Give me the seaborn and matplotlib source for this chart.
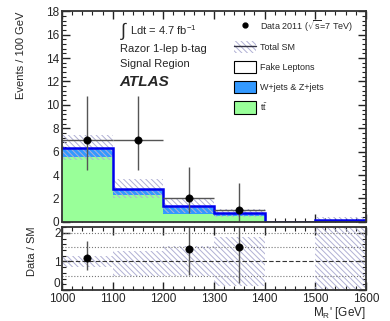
import numpy as np
import pandas as pd
import matplotlib
matplotlib.use("Agg")
import matplotlib.pyplot as plt
from matplotlib.ticker import MultipleLocator
from matplotlib.patches import Patch
from matplotlib.lines import Line2D
import seaborn as sns

# Binning in M_R' (GeV)
edges = [1000, 1100, 1200, 1300, 1400, 1500, 1600]
centers = [1050, 1150, 1250, 1350, 1450, 1550]

# Stacked backgrounds (events / 100 GeV)
ttbar = [5.5, 2.25, 0.63, 0.5, 0.0, 0.03]
wzjets = [0.83, 0.57, 0.75, 0.25, 0.0, 0.14]
fake = [0.0, 0.0, 0.0, 0.0, 0.0, 0.0]

# Total SM uncertainty band
syst_lo = [5.3, 2.05, 0.75, 0.45, 0.0, 0.0]
syst_hi = [7.4, 3.7, 2.0, 1.1, 0.0, 0.4]

# Data
data_x = [1050, 1150, 1250, 1350]
data_y = [7, 7, 2, 1]
data_lo = [4.4, 4.4, 0.72, 0.0]
data_hi = [10.75, 10.75, 4.65, 3.3]

# Ratio panel
ratio_x = [1050, 1250, 1350]
ratio_y = [1.11, 1.44, 1.52]
ratio_lo = [0.71, 0.51, 0.24]
ratio_hi = [1.71, 3.0, 3.0]
band_lo = [0.8, 0.5, 0.5, 0.15, np.nan, 0.0]
band_hi = [1.2, 1.35, 1.55, 1.85, np.nan, 2.2]

sns.set_style("ticks")
plt.rcParams['font.family'] = ['Liberation Sans', 'DejaVu Sans']
plt.rcParams['hatch.linewidth'] = 0.7
plt.rcParams['mathtext.fontset'] = 'custom'
plt.rcParams['mathtext.rm'] = 'Liberation Sans'
plt.rcParams['mathtext.it'] = 'Liberation Sans:italic'

green = '#99ff99'
blue = '#3399ff'
line_blue = '#0000ee'
hatch_col = '#b0b0d4'
err_col = '#555555'
hatch = '\\' * 6

fig = plt.figure(figsize=(3.9, 3.21), dpi=100)
ax = fig.add_axes([0.159, 0.309, 0.779, 0.656])
rax = fig.add_axes([0.159, 0.0966, 0.779, 0.196])

df = pd.DataFrame({'x': centers, 'tt': ttbar, 'wz': wzjets, 'fake': fake})
df['c_wz'] = df['tt'] + df['wz']
df['c_fake'] = df['c_wz'] + df['fake']

# stack drawn top layer first
sns.histplot(df, x='x', weights='c_fake', bins=edges, element='step', fill=True,
             color='white', alpha=1, linewidth=0, ax=ax)
sns.histplot(df, x='x', weights='c_wz', bins=edges, element='step', fill=True,
             color=blue, alpha=1, linewidth=0, ax=ax)
sns.histplot(df, x='x', weights='tt', bins=edges, element='step', fill=True,
             color=green, alpha=1, linewidth=0, ax=ax)

# uncertainty band
lo = np.array(syst_lo)
hi = np.array(syst_hi)
ax.bar(centers, hi - lo, bottom=lo, width=100, facecolor='none',
       edgecolor=hatch_col, hatch=hatch, linewidth=0)

# total outline
ax.stairs(df['c_fake'], edges, color=line_blue, linewidth=1.8, baseline=None)

# data
dy = np.array(data_y)
ax.errorbar(data_x, dy, xerr=50, yerr=[dy - np.array(data_lo), np.array(data_hi) - dy],
            fmt='none', ecolor=err_col, elinewidth=1.0, capsize=0)
sns.scatterplot(x=data_x, y=data_y, color='black', s=28, edgecolor='black', ax=ax, zorder=5)

ax.set_xlim(1000, 1600)
ax.set_ylim(0, 18)
ax.set_ylabel('Events / 100 GeV', fontsize=8)
ax.yaxis.set_label_coords(-0.12, 0.79)
ax.set_xlabel('')
ax.yaxis.set_major_locator(MultipleLocator(2))
ax.yaxis.set_minor_locator(MultipleLocator(0.4))
ax.xaxis.set_major_locator(MultipleLocator(100))
ax.xaxis.set_minor_locator(MultipleLocator(20))
ax.tick_params(axis='x', labelbottom=False)

ax.text(0.19, 0.905, r'$\int$', transform=ax.transAxes, fontsize=13, va='center')
ax.text(0.225, 0.91, r'Ldt = 4.7 fb$^{\mathregular{-1}}$', transform=ax.transAxes, fontsize=8, va='center')
ax.text(0.19, 0.82, 'Razor 1-lep b-tag', transform=ax.transAxes, fontsize=8, va='center')
ax.text(0.19, 0.75, 'Signal Region', transform=ax.transAxes, fontsize=8, va='center')
ax.text(0.19, 0.665, 'ATLAS', transform=ax.transAxes, fontsize=11, va='center',
        fontweight='bold', fontstyle='italic')

handles = [
    Line2D([], [], marker='o', color='black', linestyle='none', markersize=3.5),
    (Patch(facecolor='none', edgecolor=hatch_col, hatch=hatch, linewidth=0),
     Line2D([], [], color='#333344', linewidth=1.0)),
    Patch(facecolor='white', edgecolor='black', linewidth=0.8),
    Patch(facecolor=blue, edgecolor='black', linewidth=0.8),
    Patch(facecolor=green, edgecolor='black', linewidth=0.8),
]
labels = ['Data 2011 ($\\sqrt{\\mathregular{s}}$=7 TeV)', 'Total SM', 'Fake Leptons',
          'W+jets & Z+jets', r't$\bar{\mathregular{t}}$']
ax.legend(handles, labels, loc='upper left', bbox_to_anchor=(0.555, 0.985), frameon=False,
          fontsize=6.5, handlelength=2.4, handleheight=1.7, labelspacing=0.85,
          handletextpad=0.4, borderaxespad=0)

# ratio panel
blo = np.array(band_lo)
bhi = np.array(band_hi)
ok = ~np.isnan(blo)
rax.bar(np.array(centers)[ok], (bhi - blo)[ok], bottom=blo[ok], width=100, facecolor='none',
        edgecolor=hatch_col, hatch=hatch, linewidth=0)
for yv in [0.5, 1.5, 2.0]:
    rax.axhline(yv, color='#777777', linestyle=':', linewidth=0.8)
rax.axhline(1.0, color='#333333', linestyle=(0, (4, 2)), linewidth=0.8)
ry = np.array(ratio_y)
rax.errorbar(ratio_x, ry, yerr=[ry - np.array(ratio_lo), np.array(ratio_hi) - ry],
             fmt='none', ecolor=err_col, elinewidth=1.0, capsize=0)
sns.scatterplot(x=ratio_x, y=ratio_y, color='black', s=28, edgecolor='black', ax=rax, zorder=5)

rax.set_xlim(1000, 1600)
rax.set_ylim(0, 2.2)
rax.set_yticks([0, 1, 2])
rax.yaxis.set_minor_locator(MultipleLocator(0.2))
rax.xaxis.set_major_locator(MultipleLocator(100))
rax.xaxis.set_minor_locator(MultipleLocator(20))
rax.set_ylabel('Data / SM', fontsize=8)
rax.yaxis.set_label_coords(-0.082, 0.62)
rax.set_xlabel("M$_\\mathregular{R}$' [GeV]", fontsize=8.5, loc='right', labelpad=0)

for a in (ax, rax):
    a.tick_params(which='both', direction='in', top=True, right=True, labelsize=8.5,
                  color='#222222', pad=2)
    a.tick_params(which='major', length=6, width=1.0)
    a.tick_params(which='minor', length=3, width=0.8)
    for s in a.spines.values():
        s.set_linewidth(1.3)
        s.set_color('#333333')
rax.tick_params(axis='y', which='major', pad=1)
rax.get_yticklabels()[0].set_va('bottom')

fig.savefig('out.png', dpi=100)
